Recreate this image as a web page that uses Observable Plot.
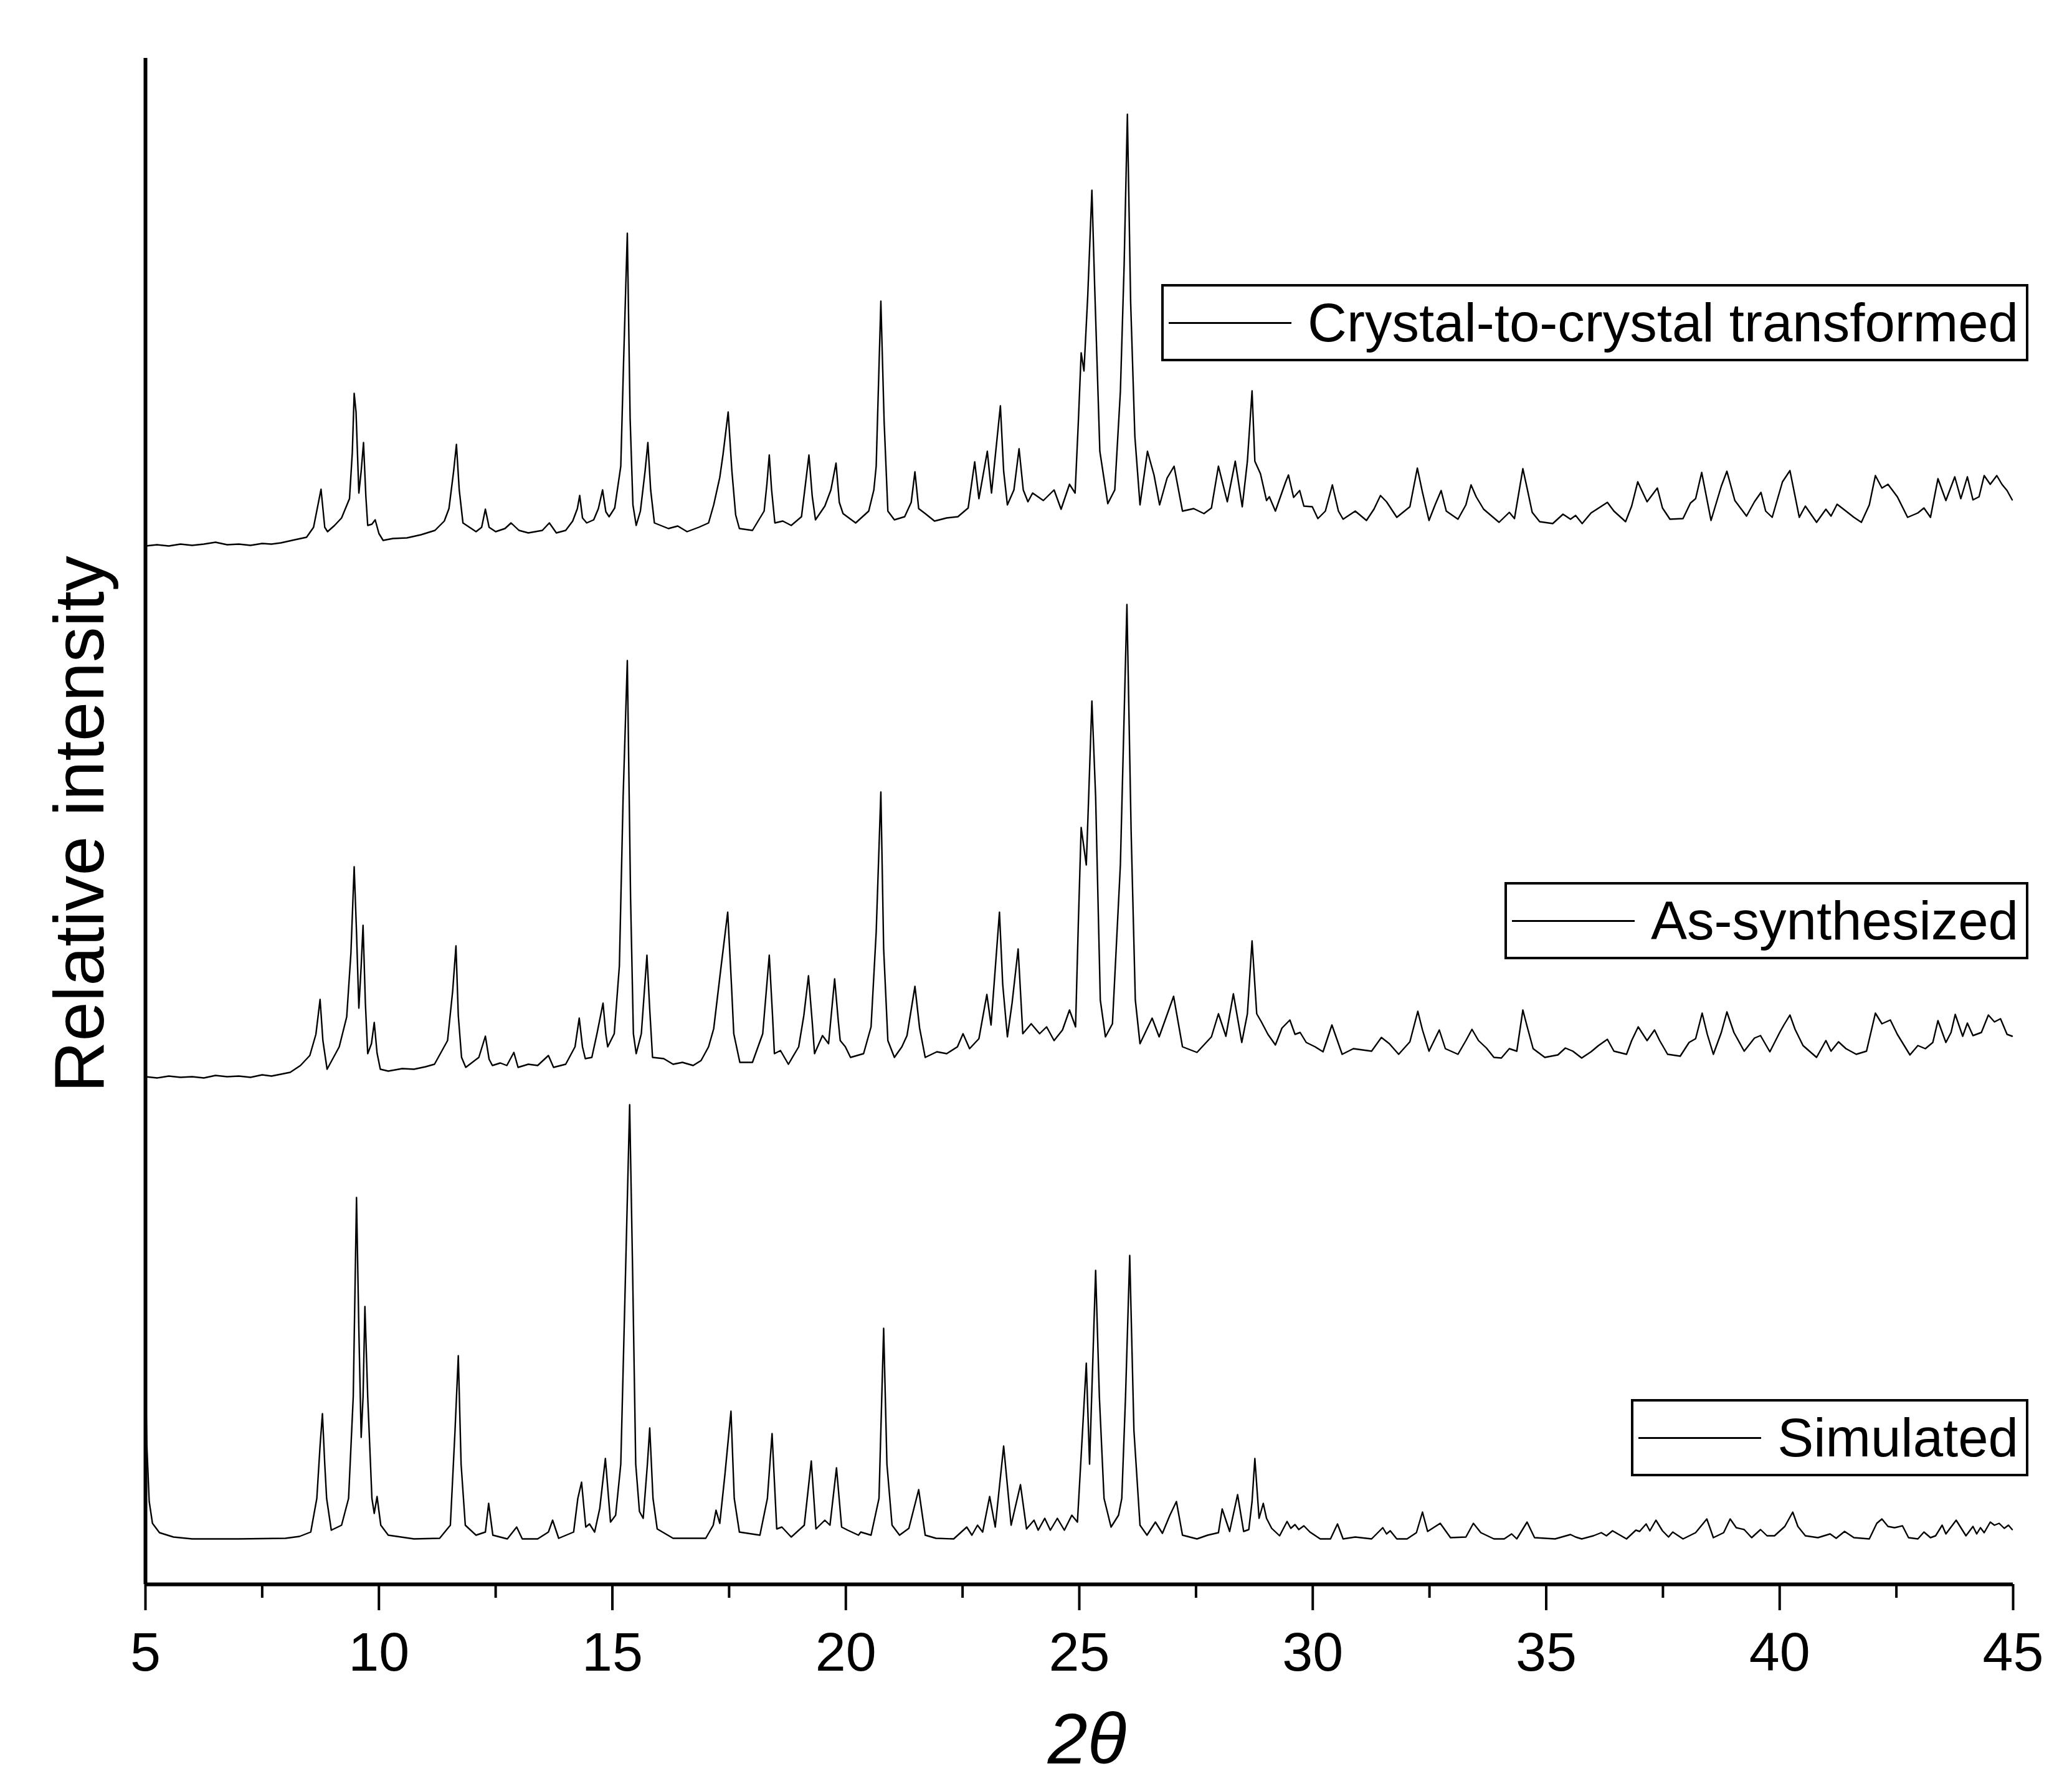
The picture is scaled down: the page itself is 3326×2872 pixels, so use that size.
<!DOCTYPE html>
<html><head><meta charset="utf-8">
<script src="https://cdn.jsdelivr.net/npm/d3@7"></script>
<script src="https://cdn.jsdelivr.net/npm/@observablehq/plot@0.6"></script>
<style>
html,body{margin:0;padding:0;background:#fff;}
#wrap{position:relative;width:3326px;height:2872px;font-family:"Liberation Sans",Arial,sans-serif;color:#000;overflow:hidden;}
#chart svg{display:block;}
.lab{position:absolute;white-space:nowrap;line-height:1;}
.legend{position:absolute;right:70px;height:124px;box-sizing:border-box;border:4px solid #000;display:flex;align-items:center;padding-left:8px;padding-right:12px;background:#fff;font-size:87px;white-space:nowrap;}
.legend .sw{width:197px;height:3px;background:#000;margin-right:26px;flex:none;}
</style></head>
<body><div id="wrap"><div id="chart"></div></div>
<script>
// Series names (bottom to top)
const seriesNames = ["Simulated", "As-synthesized", "Crystal-to-crystal transformed"];
// Vertical offset (stacking) of each pattern, in the same relative-intensity units
const offsets = [73, 813, 1667];
// x-axis ticks
const majorTicks = [5, 10, 15, 20, 25, 30, 35, 40, 45];
const minorTicks = [7.5, 12.5, 17.5, 22.5, 27.5, 32.5, 37.5, 42.5];

// [2θ, relative intensity above the pattern's own baseline]
const simulated = [[5.0,265],[5.03,150],[5.08,60],[5.15,25],[5.3,10],[5.6,3],[6.0,0],[7.0,0],[8.0,1],[8.3,4],[8.54,11],[8.67,65],[8.74,150],[8.79,201],[8.84,120],[8.88,65],[8.98,14],[9.2,22],[9.35,65],[9.45,228],[9.52,548],[9.57,336],[9.62,163],[9.66,228],[9.7,373],[9.76,228],[9.85,65],[9.9,41],[9.96,68],[10.04,22],[10.2,6],[10.75,0],[11.3,1],[11.53,22],[11.63,174],[11.7,294],[11.76,120],[11.85,22],[12.08,6],[12.28,11],[12.35,57],[12.44,6],[12.75,0],[12.95,19],[13.07,0],[13.4,0],[13.63,11],[13.72,30],[13.85,1],[14.17,11],[14.26,65],[14.34,91],[14.43,19],[14.51,24],[14.62,11],[14.73,49],[14.85,129],[14.96,27],[15.07,38],[15.18,120],[15.27,391],[15.37,697],[15.43,445],[15.5,120],[15.58,44],[15.66,33],[15.75,120],[15.8,178],[15.87,65],[15.96,16],[16.3,1],[17.0,1],[17.16,22],[17.22,46],[17.3,25],[17.41,103],[17.54,205],[17.61,65],[17.72,11],[18.16,6],[18.32,65],[18.42,169],[18.52,16],[18.63,19],[18.83,3],[19.11,22],[19.26,125],[19.36,16],[19.55,30],[19.66,22],[19.8,114],[19.91,19],[20.04,14],[20.27,6],[20.32,11],[20.54,6],[20.71,65],[20.81,338],[20.88,120],[20.99,22],[21.15,6],[21.35,17],[21.56,79],[21.7,6],[21.93,1],[22.31,0],[22.59,19],[22.7,6],[22.82,22],[22.93,11],[23.08,68],[23.2,19],[23.38,149],[23.54,22],[23.74,87],[23.87,16],[24.03,30],[24.12,14],[24.26,33],[24.38,14],[24.53,33],[24.68,14],[24.84,38],[24.96,27],[25.07,174],[25.15,282],[25.22,120],[25.35,431],[25.43,228],[25.53,65],[25.68,19],[25.84,38],[25.91,65],[25.99,228],[26.08,455],[26.17,174],[26.3,22],[26.45,6],[26.63,27],[26.78,9],[26.94,38],[27.08,60],[27.21,6],[27.52,0],[27.75,6],[27.98,10],[28.06,48],[28.22,12],[28.39,71],[28.52,12],[28.63,15],[28.7,60],[28.76,129],[28.85,33],[28.94,57],[29.01,33],[29.12,17],[29.29,5],[29.45,28],[29.53,17],[29.62,23],[29.7,15],[29.81,21],[29.94,11],[30.16,0],[30.38,0],[30.53,24],[30.65,0],[30.91,3],[31.26,0],[31.5,18],[31.58,8],[31.66,13],[31.8,0],[32.02,0],[32.22,10],[32.35,43],[32.46,12],[32.73,25],[32.95,2],[33.28,3],[33.44,25],[33.6,10],[33.88,0],[34.1,0],[34.26,8],[34.37,0],[34.59,27],[34.75,2],[35.19,0],[35.52,7],[35.63,3],[35.76,0],[36.01,5],[36.18,10],[36.29,5],[36.42,13],[36.72,0],[36.92,14],[37.0,12],[37.14,24],[37.22,13],[37.35,30],[37.49,13],[37.62,3],[37.71,11],[37.93,0],[38.2,10],[38.44,32],[38.58,2],[38.8,10],[38.94,32],[39.07,18],[39.24,15],[39.4,2],[39.59,15],[39.73,5],[39.89,5],[40.11,20],[40.28,43],[40.39,20],[40.55,5],[40.82,2],[41.08,8],[41.21,1],[41.39,12],[41.59,2],[41.92,0],[42.08,25],[42.19,32],[42.32,20],[42.46,18],[42.63,21],[42.76,2],[42.96,0],[43.09,11],[43.23,2],[43.34,5],[43.48,22],[43.56,8],[43.78,30],[43.99,5],[44.14,20],[44.22,8],[44.3,18],[44.38,10],[44.51,27],[44.6,22],[44.7,25],[44.81,17],[44.9,22],[44.98,15]];

const asSynthesized = [[5.0,2],[5.25,0],[5.5,3],[5.75,1],[6.0,2],[6.25,0],[6.5,4],[6.75,2],[7.0,3],[7.25,1],[7.5,5],[7.7,3],[7.9,6],[8.1,9],[8.32,20],[8.52,36],[8.65,70],[8.74,126],[8.8,60],[8.89,14],[9.15,50],[9.31,98],[9.4,200],[9.47,339],[9.52,234],[9.57,112],[9.62,180],[9.66,245],[9.71,120],[9.76,39],[9.84,55],[9.9,89],[9.96,40],[10.03,14],[10.2,11],[10.5,15],[10.75,14],[11.0,18],[11.19,22],[11.47,60],[11.58,140],[11.65,212],[11.7,100],[11.77,33],[11.86,17],[12.14,33],[12.28,67],[12.36,30],[12.43,20],[12.6,24],[12.74,20],[12.89,41],[12.98,17],[13.2,22],[13.4,20],[13.63,36],[13.74,17],[14.0,22],[14.2,50],[14.29,96],[14.36,50],[14.42,31],[14.56,33],[14.67,71],[14.8,120],[14.86,70],[14.9,50],[15.04,71],[15.15,180],[15.23,451],[15.32,670],[15.39,288],[15.45,71],[15.51,39],[15.62,71],[15.74,197],[15.8,110],[15.86,33],[16.1,31],[16.3,22],[16.5,25],[16.73,20],[16.9,28],[17.06,50],[17.17,79],[17.33,180],[17.47,266],[17.55,150],[17.6,71],[17.73,25],[18.0,25],[18.22,71],[18.36,197],[18.43,100],[18.47,39],[18.6,44],[18.77,22],[18.99,50],[19.1,100],[19.2,164],[19.28,90],[19.33,39],[19.5,68],[19.63,55],[19.76,159],[19.84,90],[19.88,60],[19.99,50],[20.1,33],[20.38,39],[20.54,82],[20.65,234],[20.75,459],[20.81,207],[20.9,60],[21.04,33],[21.2,50],[21.31,68],[21.48,147],[21.58,80],[21.7,33],[21.95,42],[22.16,39],[22.39,50],[22.51,71],[22.65,47],[22.85,63],[23.02,134],[23.11,85],[23.29,266],[23.36,150],[23.46,66],[23.56,120],[23.69,207],[23.79,71],[23.97,87],[24.15,71],[24.3,82],[24.46,60],[24.64,77],[24.79,109],[24.92,82],[24.98,250],[25.04,402],[25.15,342],[25.2,450],[25.27,605],[25.35,451],[25.45,125],[25.56,66],[25.71,87],[25.88,342],[26.02,760],[26.11,396],[26.2,125],[26.3,55],[26.56,96],[26.71,66],[27.02,131],[27.21,50],[27.52,41],[27.83,66],[27.98,103],[28.14,67],[28.3,135],[28.48,57],[28.6,103],[28.7,220],[28.8,103],[28.9,90],[29.04,70],[29.2,53],[29.34,80],[29.51,93],[29.62,70],[29.73,73],[29.86,57],[30.05,50],[30.22,42],[30.41,85],[30.63,38],[30.87,47],[31.26,43],[31.47,65],[31.64,55],[31.84,38],[32.08,58],[32.25,107],[32.35,77],[32.49,43],[32.71,77],[32.84,47],[33.11,38],[33.28,60],[33.41,78],[33.55,60],[33.72,48],[33.88,33],[34.04,32],[34.21,47],[34.37,43],[34.5,109],[34.59,83],[34.72,47],[34.97,33],[35.25,37],[35.41,48],[35.57,43],[35.76,32],[35.96,42],[36.12,52],[36.31,62],[36.45,43],[36.72,38],[36.83,60],[36.97,82],[37.16,60],[37.32,77],[37.43,60],[37.6,38],[37.87,35],[38.06,57],[38.2,63],[38.34,104],[38.45,70],[38.58,38],[38.75,73],[38.87,106],[39.02,73],[39.24,43],[39.46,64],[39.59,68],[39.79,42],[40.0,73],[40.09,85],[40.22,101],[40.33,78],[40.5,52],[40.79,33],[40.99,60],[41.1,43],[41.26,58],[41.42,47],[41.64,38],[41.86,43],[42.05,104],[42.19,87],[42.37,93],[42.52,70],[42.79,37],[42.96,52],[43.12,47],[43.28,57],[43.39,92],[43.56,57],[43.67,73],[43.76,102],[43.92,67],[44.02,88],[44.14,68],[44.32,73],[44.47,101],[44.6,90],[44.73,95],[44.87,70],[44.98,67]];

const transformed = [[5.0,0],[5.25,2],[5.5,0],[5.75,3],[6.0,1],[6.25,3],[6.5,6],[6.75,2],[7.0,3],[7.25,1],[7.5,4],[7.7,3],[7.9,5],[8.2,10],[8.45,14],[8.6,30],[8.76,91],[8.84,30],[8.9,23],[9.05,33],[9.2,45],[9.37,76],[9.43,150],[9.47,245],[9.51,215],[9.57,85],[9.62,120],[9.67,166],[9.72,80],[9.76,33],[9.85,35],[9.92,42],[10.0,20],[10.09,9],[10.3,12],[10.6,13],[10.9,18],[11.2,25],[11.4,40],[11.5,60],[11.6,120],[11.66,163],[11.72,90],[11.8,37],[12.08,23],[12.2,30],[12.28,59],[12.36,30],[12.5,23],[12.7,28],[12.83,37],[13.0,25],[13.2,21],[13.5,25],[13.65,37],[13.8,21],[14.0,25],[14.15,40],[14.25,60],[14.3,81],[14.36,45],[14.45,37],[14.6,42],[14.7,60],[14.79,90],[14.86,55],[14.93,47],[15.05,61],[15.18,128],[15.24,296],[15.32,502],[15.38,205],[15.44,66],[15.51,33],[15.6,56],[15.7,120],[15.76,166],[15.82,90],[15.9,37],[16.2,28],[16.4,32],[16.6,23],[16.85,30],[17.06,37],[17.17,66],[17.3,110],[17.37,147],[17.48,215],[17.56,120],[17.64,50],[17.72,28],[18.0,25],[18.25,56],[18.31,100],[18.36,146],[18.41,90],[18.48,37],[18.65,40],[18.83,33],[19.05,47],[19.12,90],[19.21,146],[19.28,80],[19.35,42],[19.55,64],[19.68,90],[19.79,133],[19.86,70],[19.94,52],[20.21,37],[20.49,56],[20.6,90],[20.65,128],[20.75,393],[20.82,200],[20.9,56],[21.04,42],[21.26,47],[21.4,70],[21.48,119],[21.56,60],[21.7,52],[21.9,40],[22.16,45],[22.4,47],[22.62,61],[22.76,135],[22.85,76],[23.03,152],[23.12,85],[23.31,225],[23.38,120],[23.46,66],[23.6,90],[23.71,156],[23.8,90],[23.9,71],[24.0,85],[24.23,73],[24.46,90],[24.61,59],[24.79,99],[24.91,85],[24.98,200],[25.04,310],[25.1,281],[25.18,400],[25.27,571],[25.33,415],[25.44,152],[25.61,68],[25.76,90],[25.88,248],[25.96,450],[26.03,693],[26.1,391],[26.19,176],[26.3,66],[26.46,152],[26.6,114],[26.72,66],[26.88,109],[27.03,128],[27.21,56],[27.45,60],[27.67,52],[27.83,61],[27.98,128],[28.17,71],[28.34,136],[28.49,63],[28.6,136],[28.7,249],[28.76,136],[28.88,116],[29.01,73],[29.07,79],[29.2,56],[29.34,86],[29.42,103],[29.48,114],[29.59,78],[29.72,89],[29.81,64],[29.99,63],[30.11,44],[30.27,56],[30.42,98],[30.55,56],[30.65,43],[30.91,56],[31.15,41],[31.31,59],[31.45,81],[31.58,71],[31.8,46],[32.08,63],[32.24,125],[32.35,86],[32.49,41],[32.62,66],[32.75,89],[32.86,56],[33.11,43],[33.28,66],[33.39,98],[33.5,79],[33.66,59],[33.99,38],[34.21,54],[34.32,44],[34.5,124],[34.59,93],[34.7,54],[34.86,39],[35.14,36],[35.36,51],[35.52,43],[35.63,49],[35.77,36],[35.96,53],[36.31,70],[36.45,56],[36.7,39],[36.83,64],[36.96,103],[37.16,71],[37.38,93],[37.49,61],[37.65,43],[37.93,44],[38.09,69],[38.2,76],[38.33,118],[38.53,41],[38.75,96],[38.87,120],[39.04,73],[39.29,48],[39.46,71],[39.6,86],[39.7,56],[39.84,46],[40.06,103],[40.22,121],[40.42,46],[40.55,64],[40.79,38],[40.99,59],[41.1,48],[41.23,67],[41.42,56],[41.59,46],[41.75,38],[41.92,66],[42.05,113],[42.19,93],[42.32,99],[42.52,79],[42.74,46],[42.96,53],[43.09,61],[43.23,46],[43.39,108],[43.56,73],[43.75,111],[43.88,76],[44.02,111],[44.14,74],[44.27,79],[44.38,113],[44.51,99],[44.65,113],[44.76,99],[44.87,89],[44.98,74]];

const patterns = [simulated, asSynthesized, transformed];
const rows = patterns.flatMap((pts, i) => pts.map(([t, v]) => ({series: seriesNames[i], theta: t, y: v + offsets[i]})));

const FONT = '"Liberation Sans", Arial, Helvetica, sans-serif';
const chart = Plot.plot({
  width: 3326, height: 2872,
  marginLeft: 233, marginRight: 95, marginTop: 93, marginBottom: 329,
  style: {fontFamily: FONT, background: "white", color: "black"},
  x: {domain: [5, 45], label: null},
  y: {domain: [0, 2450], axis: null},
  marks: [
    Plot.line(rows, {x: "theta", y: "y", z: "series", stroke: "black", strokeWidth: 2.4, strokeLinejoin: "round"}),
    Plot.ruleX([5], {stroke: "black", strokeWidth: 6}),
    Plot.ruleY([0], {stroke: "black", strokeWidth: 6}),
    Plot.axisX({ticks: majorTicks, tickSize: 42, tickPadding: 34, fontSize: 88, strokeWidth: 4, label: null}),
    Plot.axisX({ticks: minorTicks, tickSize: 22, tickFormat: () => "", strokeWidth: 4, label: null})
  ]
});
const wrap = document.getElementById("wrap");
document.getElementById("chart").appendChild(chart);

function addLabel(text, css) {
  const d = document.createElement("div");
  d.className = "lab";
  d.textContent = text;
  Object.assign(d.style, css);
  wrap.appendChild(d);
}
addLabel("Relative intensity", {left: "127px", top: "1323px", transform: "translate(-50%,-50%) rotate(-90deg)", fontSize: "114px"});
addLabel("2θ", {left: "1745px", top: "2791px", transform: "translate(-50%,-50%)", fontSize: "115px", fontStyle: "italic"});

const legendTops = [2246, 1416, 456];
seriesNames.forEach((name, i) => {
  const box = document.createElement("div");
  box.className = "legend";
  box.style.top = legendTops[i] + "px";
  const sw = document.createElement("div");
  sw.className = "sw";
  const tx = document.createElement("span");
  tx.textContent = name;
  box.appendChild(sw); box.appendChild(tx);
  wrap.appendChild(box);
});
</script>
</body></html>
